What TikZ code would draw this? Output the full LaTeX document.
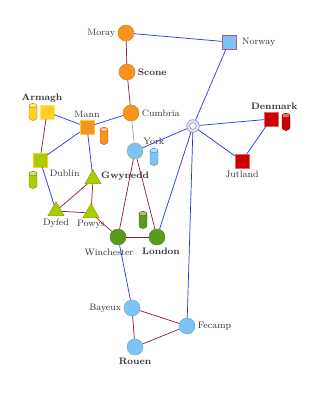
\documentclass[tikz,border=0pt]{standalone}
\definecolor{MapOrange}{HTML}{F7941D}
\definecolor{MapSky}{HTML}{7CC4F8}
\definecolor{MapGreen}{HTML}{5A9A1E}
\definecolor{MapLime}{HTML}{AACC00}
\definecolor{MapGold}{HTML}{FFD020}
\definecolor{MapRed}{HTML}{CC0000}
\definecolor{MapMaroon}{HTML}{8B1A3A}
\definecolor{MapBlue}{HTML}{2233EE}
\definecolor{MapText}{HTML}{333333}
\usetikzlibrary{shapes.geometric}

\begin{document}
\begin{tikzpicture}[x=0.03cm, y=-0.03cm,
      every label/.style={font=\footnotesize, text=MapText, inner sep=2pt},
      town/.style={circle, minimum size=0.48cm, inner sep=0pt, draw=#1!85!black, fill=#1},
      site/.style={rectangle, minimum size=0.42cm, inner sep=0pt, draw=#1!60!white, fill=#1},
      tri/.style={regular polygon, regular polygon sides=3, minimum size=0.56cm, inner sep=0pt, fill=MapLime, draw=MapLime!80!black},
      drum/.style={rectangle, rounded corners=0.1cm, minimum width=0.24cm, minimum height=0.5cm, inner sep=0pt, draw=#1!70!black, fill=#1},
      drumtop/.style={draw=#1!70!black, fill=#1!55!white, line width=0.4pt},
      sea/.style={MapBlue, line width=0.6pt},
      land/.style={MapMaroon, line width=0.6pt}]
   \useasboundingbox (0,0) rectangle (309,400);
   % Scotland
   \node[town=MapOrange, label=left:Moray] (moray) at (126,33) {};
   \node[town=MapOrange, label={right:\textbf{Scone}}] (scone) at (127,72) {};
   \node[town=MapOrange, label=right:Cumbria] (cumbria) at (131,113) {};
   % Scandinavia
   \node[site=MapSky, draw=MapMaroon!70!white, label={[xshift=0.1cm]right:Norway}] (norway) at (229,42) {};
   \node[circle, minimum size=0.38cm, inner sep=0pt, draw=gray, fill=blue!12] (hub) at (193,126) {};
   \node[circle, minimum size=0.2cm, inner sep=0pt, draw=gray, fill=white] (hubcore) at (hub) {};
   \node[site=MapRed, label={[xshift=0.1cm]above:\textbf{Denmark}}] (denmark) at (271,119) {};
   \node[drum=MapRed] (denmarkdrum) at (286,122) {};
   \node[site=MapRed, label=below:Jutland] (jutland) at (242,161) {};
   % Ireland and Mann
   \node[site=MapGold, label={[xshift=-0.15cm]above:\textbf{Armagh}}] (armagh) at (47,112) {};
   \node[drum=MapGold] (armaghdrum) at (33,112) {};
   \node[site=MapOrange, draw=MapGold, label=above:Mann] (mann) at (87,127) {};
   \node[drum=MapOrange] (manndrum) at (104,136) {};
   \node[site=MapLime, draw=MapGold, label=below right:Dublin] (dublin) at (40,160) {};
   \node[drum=MapLime] (dublindrum) at (33,180) {};
   % Wales
   \node[tri, label={[yshift=0.1cm]right:\textbf{Gwynedd}}] (gwynedd) at (93,179) {};
   \node[tri, label=below:Dyfed] (dyfed) at (56,211) {};
   \node[tri, label=below:Powys] (powys) at (91,213) {};
   % England
   \node[town=MapSky, draw=MapGreen!70, label={[yshift=-0.05cm]above right:York}] (york) at (135,151) {};
   \node[drum=MapSky] (yorkdrum) at (154,157) {};
   \node[town=MapGreen, label={[xshift=-0.27cm, yshift=-0.05cm]below:Winchester}] (winchester) at (118,237) {};
   \node[town=MapGreen, label={[xshift=0.12cm]below:\textbf{London}}] (london) at (157,237) {};
   \node[drum=MapGreen] (londondrum) at (143,220) {};
   % drum lids
   \draw[drumtop=MapRed] (denmarkdrum.north) ++(0,2.2) ellipse (4 and 2.2);
   \draw[drumtop=MapGold] (armaghdrum.north) ++(0,2.2) ellipse (4 and 2.2);
   \draw[drumtop=MapOrange] (manndrum.north) ++(0,2.2) ellipse (4 and 2.2);
   \draw[drumtop=MapLime] (dublindrum.north) ++(0,2.2) ellipse (4 and 2.2);
   \draw[drumtop=MapSky] (yorkdrum.north) ++(0,2.2) ellipse (4 and 2.2);
   \draw[drumtop=MapGreen] (londondrum.north) ++(0,2.2) ellipse (4 and 2.2);
   % Normandy
   \node[town=MapSky, label=left:Bayeux] (bayeux) at (132,308) {};
   \node[town=MapSky, label=right:Fecamp] (fecamp) at (187,326) {};
   \node[town=MapSky, label={below:\textbf{Rouen}}] (rouen) at (135,347) {};
   % Sea routes
   \draw[sea] (moray) -- (norway);
   \draw[sea] (cumbria) -- (mann);
   \draw[sea] (armagh) -- (mann);
   \draw[sea] (mann) -- (dublin);
   \draw[sea] (mann) -- (gwynedd);
   \draw[sea] (dublin) -- (dyfed);
   \draw[sea] (york) -- (hub);
   \draw[sea] (norway) -- (hub);
   \draw[sea] (hub) -- (denmark);
   \draw[sea] (hub) -- (jutland);
   \draw[sea] (denmark) -- (jutland);
   \draw[sea] (hub) -- (london);
   \draw[sea] (hub) -- (fecamp);
   \draw[sea] (winchester) -- (bayeux);
   % Land routes
   \draw[land] (moray) -- (scone);
   \draw[land] (scone) -- (cumbria);
   \draw[gray!70, line width=0.6pt] (cumbria) -- (york);
   \draw[land] (armagh) -- (dublin);
   \draw[land] (gwynedd) -- (dyfed);
   \draw[land] (gwynedd) -- (powys);
   \draw[land] (dyfed) -- (powys);
   \draw[land] (powys) -- (winchester);
   \draw[land] (winchester) -- (london);
   \draw[land] (winchester) -- (york);
   \draw[land] (london) -- (york);
   \draw[land] (bayeux) -- (fecamp);
   \draw[land] (bayeux) -- (rouen);
   \draw[land] (rouen) -- (fecamp);
\end{tikzpicture}
\end{document}
